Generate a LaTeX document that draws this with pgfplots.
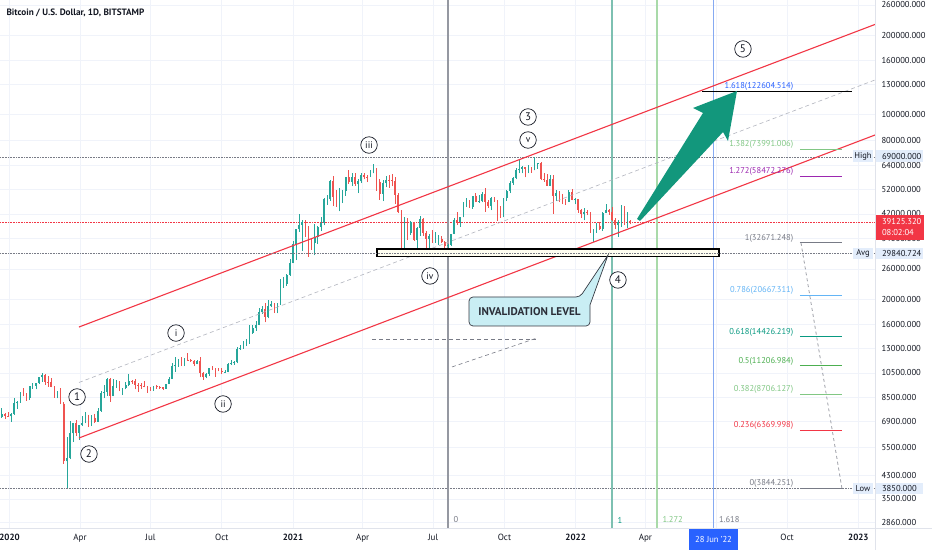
\documentclass[border=0pt]{standalone}
\usepackage{pgfplots}
\pgfplotsset{compat=1.18}
\usepackage{pgfplotstable}
\usepackage{fontspec}
\setmainfont{PT Sans}
\setsansfont{PT Sans}
\definecolor{tvgreen}{HTML}{26A69A}
\definecolor{tvred}{HTML}{EF5350}
\definecolor{chred}{HTML}{F23645}
\definecolor{gridc}{HTML}{F0F3FA}
\definecolor{txt}{HTML}{131722}
\definecolor{tvgray}{HTML}{787B86}
\definecolor{vgray}{HTML}{9598A1}
\definecolor{midgray}{HTML}{B2B5BE}
\definecolor{arrowc}{HTML}{12977C}
\definecolor{callout}{HTML}{C9EEF4}
\definecolor{fibblue}{HTML}{2962FF}
\definecolor{lblue}{HTML}{64B5F6}
\definecolor{dgreen}{HTML}{089981}
\definecolor{mgreen}{HTML}{4CAF50}
\definecolor{lgreen}{HTML}{81C784}
\definecolor{fpurple}{HTML}{9C27B0}
\definecolor{lineteal}{HTML}{7DC0B1}
\definecolor{linegreen}{HTML}{A9DAA9}
\definecolor{lineblue}{HTML}{86AAF2}
\definecolor{axisbox}{HTML}{E3EDFB}
\definecolor{sepc}{HTML}{E0E3EB}

\pgfplotstableread{
x o h l c
-10 7150 7700 7100 7320
-6 7320 7400 7050 7240
-2 7240 7500 7150 7190
2 7190 7400 6870 7350
6 7350 8450 7300 8050
10 8050 8200 7680 8180
14 8180 8900 8100 8820
18 8820 9200 8550 8630
22 8630 8780 8250 8430
26 8430 9400 8280 9380
30 9380 9580 9150 9380
34 9380 9620 9100 9610
38 9610 10150 9550 10150
42 10150 10500 9720 10270
46 10270 10380 9450 9700
50 9700 10250 9300 9690
54 9690 10000 9260 9320
58 9320 9330 8450 8550
62 8550 8950 8400 8760
66 8760 9180 8000 8030
70 8030 8180 4750 4850
74 4850 6000 3850 5020
78 5020 6900 4950 6200
82 6200 6800 5750 6760
86 6760 6950 6050 6240
90 6240 6650 5850 6640
94 6640 7200 6600 6780
98 6780 7480 6780 7300
102 7300 7300 6550 6880
106 6880 7300 6600 7100
110 7100 7350 6780 6850
114 6850 7700 6830 7550
118 7550 8950 7500 8790
122 8790 9450 8400 8900
126 8900 10000 8600 9980
130 9980 10050 8150 8580
134 8580 9950 8560 9330
138 9330 9900 9200 9720
142 9720 9820 8950 9180
146 9180 9220 8650 9200
150 9200 9700 9100 9450
154 9450 10400 9350 9800
158 9800 9860 9550 9780
162 9780 9990 9100 9470
166 9470 9580 8920 9420
170 9420 9580 9150 9340
174 9340 9780 9260 9300
178 9300 9330 8830 9130
182 9130 9300 9000 9120
186 9120 9380 8950 9340
190 9340 9450 9160 9280
194 9280 9350 9120 9250
198 9250 9260 9040 9160
202 9160 9550 9120 9530
206 9530 10150 9520 9940
210 9940 11400 9940 11120
214 11120 12080 10600 11230
218 11230 11900 11100 11600
222 11600 12080 11150 11400
226 11400 12000 11150 11800
230 11800 12450 11700 11750
234 11750 11880 11550 11680
238 11680 11800 11150 11330
242 11330 11750 11300 11650
246 11650 12050 10100 10470
250 10470 10570 9880 10130
254 10130 10450 10000 10430
258 10430 11000 10200 10940
262 10940 11180 10750 10930
266 10930 10980 10150 10730
270 10730 10950 10650 10700
274 10700 10950 10400 10580
278 10580 10800 10500 10600
282 10600 11480 10550 11300
286 11300 11720 11230 11430
290 11430 11630 11250 11500
294 11500 13200 11400 12980
298 12980 13350 12830 13030
302 13030 13850 12950 13550
306 13550 14070 13250 13560
310 13560 15950 13550 14830
314 14830 15950 14800 15480
318 15480 16500 15150 15980
322 15980 18450 15900 17800
326 17800 18800 17600 18370
330 18370 19400 16300 17150
334 17150 19900 16900 18800
338 18800 19600 18600 19150
342 19150 19400 17700 18550
346 18550 19400 17650 19150
350 19150 23750 19000 22800
354 22800 24300 22100 22800
358 22800 24800 22400 24700
362 24700 28400 24500 27350
366 27350 33300 27300 32200
370 32200 36900 28100 36800
374 36800 41950 35900 38200
378 38200 39700 30400 39200
382 39200 39800 34400 36600
386 36600 37800 28900 33000
390 33000 33800 30800 32500
394 32500 38600 29300 34250
398 34250 37700 32300 37600
402 37600 40950 36200 38900
406 38900 48200 38000 47900
410 47900 49700 45600 47900
414 47900 56400 47100 55900
418 55900 58350 45000 48800
422 48800 51900 44800 46300
426 46300 52600 43000 50300
430 50300 51800 46200 51200
434 51200 58000 49300 57800
438 57800 61700 54600 55600
442 55600 60000 53500 58100
446 58100 59800 53700 54400
450 54400 57200 50400 55800
454 55800 59800 55000 58800
458 58800 60100 56800 58200
462 58200 59200 55400 58000
466 58000 61800 57900 59900
470 59900 64850 59800 61400
474 61400 62500 51500 55700
478 55700 56800 47500 50000
482 50000 56500 47000 55000
486 55000 58400 53000 56600
490 56600 58900 52900 56400
494 56400 59500 53400 55800
498 55800 57900 46000 49600
502 49600 50600 42300 42900
506 42900 43500 30000 37500
510 37500 40800 31100 38400
514 38400 40400 33400 35700
518 35700 39500 35000 39200
522 39200 39300 33300 33600
526 33600 37500 31000 37300
530 37300 41300 34600 40200
534 40200 40500 34800 35500
538 35500 36200 28800 33700
542 33700 35300 30200 34700
546 34700 36600 32700 33600
550 33600 35900 32700 33800
554 33800 35000 32100 33900
558 33900 34700 32700 32900
562 32900 33200 31100 31800
566 31800 32400 29300 32100
570 32100 35400 31700 35400
574 35400 40500 35200 40000
578 40000 42600 38300 39200
582 39200 41000 37500 40900
586 40900 46500 40800 45600
590 45600 48100 44600 47000
594 47000 47500 44300 44700
598 44700 49300 43900 49300
602 49300 50500 46500 46800
606 46800 49600 46400 46900
610 46900 51000 46500 50000
614 50000 52900 42800 46800
618 46800 47400 44200 45200
622 45200 48500 43400 48100
626 48100 48800 46800 47200
630 47200 47300 39600 44000
634 44000 44900 40700 42200
638 42200 48400 40800 48100
642 48100 51900 47000 51500
646 51500 56100 50400 55000
650 55000 57800 54100 57400
654 57400 62900 56800 61500
658 61500 67000 59800 62200
662 62200 63700 59800 63100
666 63100 63300 57800 62200
670 62200 64300 59800 63200
674 63200 63500 60100 61500
678 61500 69000 61400 65000
682 65000 65600 62300 65500
686 65500 66300 56500 57000
690 57000 60000 55700 56300
694 56300 59300 53500 53700
698 53700 59200 53500 57000
702 57000 59100 42000 49300
706 49300 51900 47100 50500
710 50500 51200 46800 50100
714 50100 50100 45700 47600
718 47600 48000 45500 46700
722 46700 51800 46600 50800
726 50800 52100 47300 47500
730 47500 48100 45700 47700
734 47700 47900 42500 43400
738 43400 43700 40700 41900
742 41900 44400 39700 42600
746 42600 43400 41600 42200
750 42200 42600 35600 36500
754 36500 36800 33000 36900
758 36900 38900 35600 37900
762 37900 39300 36600 36900
766 36900 42600 36300 42400
770 42400 45800 42200 43500
774 43500 43900 41700 42600
778 42600 44800 39500 40000
782 40000 40500 36800 38300
786 38300 39800 34300 39200
790 39200 45400 37500 44400
794 44400 44900 38100 38400
798 38400 42600 37200 39400
801 39400 40000 38400 39125
}\candles
\pgfplotstablegetrowsof{\candles}
\pgfmathtruncatemacro\lastrow{\pgfplotsretval-1}

\begin{document}
\begin{tikzpicture}
\useasboundingbox (0,0) rectangle (932pt,550pt);
\fill[white] (0,0) rectangle (932pt,550pt);
\begin{axis}[
  at={(0pt,22pt)}, anchor=south west,
  scale only axis, width=875pt, height=528pt,
  xmin=-12.3, xmax=1117.5,
  ymode=log, ymin=2714.6, ymax=271580,
  clip=false,
  axis line style={draw=none},
  major tick length=0pt,
  grid=major, major grid style={gridc, line width=0.6pt},
  xtick={0,91,182,274,366,456,547,639,731,821,912,1004,1096},
  xticklabels={\textbf{2020},Apr,Jul,Oct,\textbf{2021},Apr,Jul,Oct,\textbf{2022},Apr,,Oct,\textbf{2023}},
  x tick label style={font=\fontsize{9}{10}\selectfont, text=txt, yshift=-3pt},
  ytick={2860,3500,4300,5500,6900,8500,10500,13000,16000,20000,26000,34000,42000,52000,64000,80000,100000,130000,160000,200000,260000},
  yticklabels={2860.000,3500.000,4300.000,5500.000,6900.000,8500.000,10500.000,13000.000,16000.000,20000.000,26000.000,34000.000,42000.000,52000.000,64000.000,80000.000,100000.000,130000.000,160000.000,200000.000,260000.000},
  yticklabel pos=right,
  y tick label style={font=\fontsize{8.6}{10}\selectfont, text=txt, anchor=west, xshift=3pt},
]
% horizontal reference lines
\addplot[draw=tvgray, densely dotted, line width=0.6pt] coordinates {(-12.3,69000) (1117.5,69000)};
\addplot[draw=tvgray, densely dotted, line width=0.6pt] coordinates {(-12.3,3850) (1117.5,3850)};
\addplot[draw=chred, densely dotted, line width=0.6pt] coordinates {(-12.3,39125.32) (1117.5,39125.32)};

% vertical lines
\addplot[draw=vgray, line width=1.1pt] coordinates {(566.2,2714.6) (566.2,271580)};
\addplot[draw=lineteal, line width=1.2pt] coordinates {(777.9,2714.6) (777.9,271580)};
\addplot[draw=linegreen, line width=1.1pt] coordinates {(836.0,2714.6) (836.0,271580)};
\addplot[draw=lineblue, line width=1.5pt] coordinates {(909.0,2714.6) (909.0,271580)};

% candles
\pgfplotsforeachungrouped \i in {0,...,\lastrow}{%
  \pgfplotstablegetelem{\i}{x}\of\candles\let\cx\pgfplotsretval
  \pgfplotstablegetelem{\i}{o}\of\candles\let\co\pgfplotsretval
  \pgfplotstablegetelem{\i}{h}\of\candles\let\ch\pgfplotsretval
  \pgfplotstablegetelem{\i}{l}\of\candles\let\cl\pgfplotsretval
  \pgfplotstablegetelem{\i}{c}\of\candles\let\cc\pgfplotsretval
  \ifnum\cc<\co\relax\def\ccol{tvred}\else\def\ccol{tvgreen}\fi
  \edef\tmp{\noexpand\addplot[draw=\ccol,line width=0.6pt,forget plot] coordinates {(\cx,\cl) (\cx,\ch)};%
    \noexpand\addplot[draw=\ccol,line width=1.7pt,forget plot] coordinates {(\cx,\co) (\cx,\cc)};}%
  \tmp
}

% channel
\addplot[draw=chred, line width=1.1pt] coordinates {(89.7,15670) (1117.5,219400)};
\addplot[draw=chred, line width=1.1pt] coordinates {(89.7,5952) (1117.5,83640)};
\addplot[draw=midgray, dash pattern=on 4pt off 3pt, line width=0.6pt] coordinates {(89.7,9659) (1117.5,135170)};
% dashed sketch
\addplot[draw=tvgray, dash pattern=on 4pt off 3pt, line width=0.6pt] coordinates {(468.1,14110) (679.8,14110)};
\addplot[draw=tvgray, dash pattern=on 4pt off 3pt, line width=0.6pt] coordinates {(571.3,11060) (681.1,14240)};

% zone box
\addplot[draw=black, line width=1.3pt, fill=white!94!yellow] coordinates {(474.5,28940) (916.1,28940) (916.1,30950) (474.5,30950)} -- cycle;
\addplot[draw=tvgray, densely dotted, line width=0.6pt] coordinates {(-12.3,29840.724) (1117.5,29840.724)};

\node[anchor=west, text=tvgray, font=\fontsize{8.5}{9}\selectfont, xshift=2pt] at (axis cs:566.2,2911) {0};
\node[anchor=west, text=dgreen, font=\fontsize{8.5}{9}\selectfont, xshift=2pt] at (axis cs:777.9,2911) {1};
\node[anchor=west, text=lgreen, font=\fontsize{8.5}{9}\selectfont, xshift=2pt] at (axis cs:836.0,2911) {1.272};
\node[anchor=west, text=tvgray, font=\fontsize{8.5}{9}\selectfont, xshift=2pt] at (axis cs:909.0,2911) {1.618};

% fib extension
\addplot[draw=black, line width=1.3pt] coordinates {(894.1,122604.514) (1087.8,122604.514)};
\addplot[draw=lgreen, line width=1pt] coordinates {(1020.4,73991.006) (1074.8,73991.006)};
\addplot[draw=fpurple, line width=1pt] coordinates {(1020.4,58472.276) (1074.8,58472.276)};
\addplot[draw=tvgray, line width=1pt] coordinates {(1020.4,32671.248) (1074.8,32671.248)};
\addplot[draw=lblue, line width=1pt] coordinates {(1020.4,20667.311) (1074.8,20667.311)};
\addplot[draw=dgreen, line width=1pt] coordinates {(1020.4,14426.219) (1074.8,14426.219)};
\addplot[draw=mgreen, line width=1pt] coordinates {(1020.4,11206.984) (1074.8,11206.984)};
\addplot[draw=lgreen, line width=1pt] coordinates {(1020.4,8706.127) (1074.8,8706.127)};
\addplot[draw=chred, line width=1pt] coordinates {(1020.4,6369.998) (1074.8,6369.998)};
\addplot[draw=tvgray, line width=1pt] coordinates {(1020.4,3844.251) (1074.8,3844.251)};
\addplot[draw=tvgray, dash pattern=on 3pt off 3pt, line width=0.6pt] coordinates {(1021.9,32671.248) (1074.8,3844.251)};
\begin{scope}[every node/.style={anchor=east, yshift=4.5pt, font=\fontsize{8.5}{9}\selectfont}]
\node[text=fibblue] at (axis cs:1016.5,122604.514) {1.618(122604.514)};
\node[text=lgreen] at (axis cs:1016.5,73991.006) {1.382(73991.006)};
\node[text=fpurple] at (axis cs:1016.5,58472.276) {1.272(58472.276)};
\node[text=tvgray] at (axis cs:1016.5,32671.248) {1(32671.248)};
\node[text=lblue] at (axis cs:1016.5,20667.311) {0.786(20667.311)};
\node[text=dgreen] at (axis cs:1016.5,14426.219) {0.618(14426.219)};
\node[text=mgreen] at (axis cs:1016.5,11206.984) {0.5(11206.984)};
\node[text=lgreen] at (axis cs:1016.5,8706.127) {0.382(8706.127)};
\node[text=chred] at (axis cs:1016.5,6369.998) {0.236(6369.998)};
\node[text=tvgray] at (axis cs:1016.5,3844.251) {0(3844.251)};
\end{scope}

% green arrow
\addplot[fill=arrowc, draw=none] coordinates {(810.2,40220) (895.4,101350) (882.5,105870) (939.3,122800) (927.7,79370) (921.3,85860) (814.1,39520)} -- cycle;

% callout
\draw[fill=callout, draw=txt!85, line width=0.7pt, rounded corners=4pt]
  (axis cs:593.3,20360) -- (axis cs:736.6,20360) [sharp corners] -- (axis cs:772.8,29380)
  -- (axis cs:749.5,18990) [rounded corners=4pt] -- (axis cs:749.5,15810) -- (axis cs:593.3,15810) -- cycle;
\node[font=\bfseries\fontsize{11.2}{12}\selectfont, text=txt!90] at (axis cs:671.4,17950) {INVALIDATION LEVEL};

% wave labels
\begin{scope}[every node/.style={circle, draw=txt, line width=0.7pt, minimum size=16.5pt, inner sep=0pt, text=txt, fill=white, font=\fontsize{11}{12}\selectfont}]
\node at (axis cs:87.2,8512) {1};
\node at (axis cs:102.6,5176) {2};
\node at (axis cs:669.5,97880) {3};
\node at (axis cs:785.6,23620) {4};
\node at (axis cs:947.0,177140) {5};
\node[font=\fontsize{9.5}{10}\selectfont] at (axis cs:215.0,14870) {i};
\node[font=\fontsize{9.5}{10}\selectfont] at (axis cs:275.7,8008) {ii};
\node[font=\fontsize{9.5}{10}\selectfont] at (axis cs:464.2,76660) {iii};
\node[font=\fontsize{9.5}{10}\selectfont] at (axis cs:542.9,24460) {iv};
\node[font=\fontsize{9.5}{10}\selectfont] at (axis cs:669.5,80070) {v};
\end{scope}
\end{axis}

% overlays in pixel coordinates
\begin{scope}[x=1pt,y=-1pt,shift={(0pt,550pt)}]
\draw[sepc, line width=0.8pt] (0,528) -- (932,528);
\draw[sepc, line width=0.8pt] (875,0) -- (875,550);
\node[anchor=west, font=\bfseries\fontsize{9.2}{10}\selectfont, text=txt] at (3,12.5) {Bitcoin / U.S. Dollar, 1D, BITSTAMP};
% High
\fill[axisbox] (853,150.5) rectangle (873,162);
\node[font=\fontsize{8.5}{9}\selectfont, text=txt] at (863,156.3) {High};
\fill[axisbox] (875.5,150.5) rectangle (923,162);
\node[anchor=west, font=\fontsize{8.6}{10}\selectfont, text=txt] at (878.5,156.3) {69000.000};
% Avg
\fill[axisbox] (853,247.5) rectangle (873,259);
\node[font=\fontsize{8.5}{9}\selectfont, text=txt] at (863,253.3) {Avg};
\fill[axisbox] (875.5,247.5) rectangle (923,259);
\node[anchor=west, font=\fontsize{8.6}{10}\selectfont, text=txt] at (878.5,253.3) {29840.724};
% Low
\fill[axisbox] (853,482.5) rectangle (873,494);
\node[font=\fontsize{8.5}{9}\selectfont, text=txt] at (863,488.3) {Low};
\fill[axisbox] (875.5,482.5) rectangle (923,494);
\node[anchor=west, font=\fontsize{8.6}{10}\selectfont, text=txt] at (878.5,488.3) {3850.000};
% current price
\fill[chred] (875.5,214.5) rectangle (924,239.5);
\node[anchor=west, font=\fontsize{8.6}{10}\selectfont, text=white] at (878.5,221) {39125.320};
\node[anchor=west, font=\fontsize{8.6}{10}\selectfont, text=white] at (878.5,232.5) {08:02:04};
% date label
\fill[fibblue] (689,529) rectangle (738,550);
\node[font=\fontsize{8.6}{10}\selectfont, text=white] at (713.5,539.5) {28 Jun '22};
\end{scope}
\end{tikzpicture}
\end{document}
